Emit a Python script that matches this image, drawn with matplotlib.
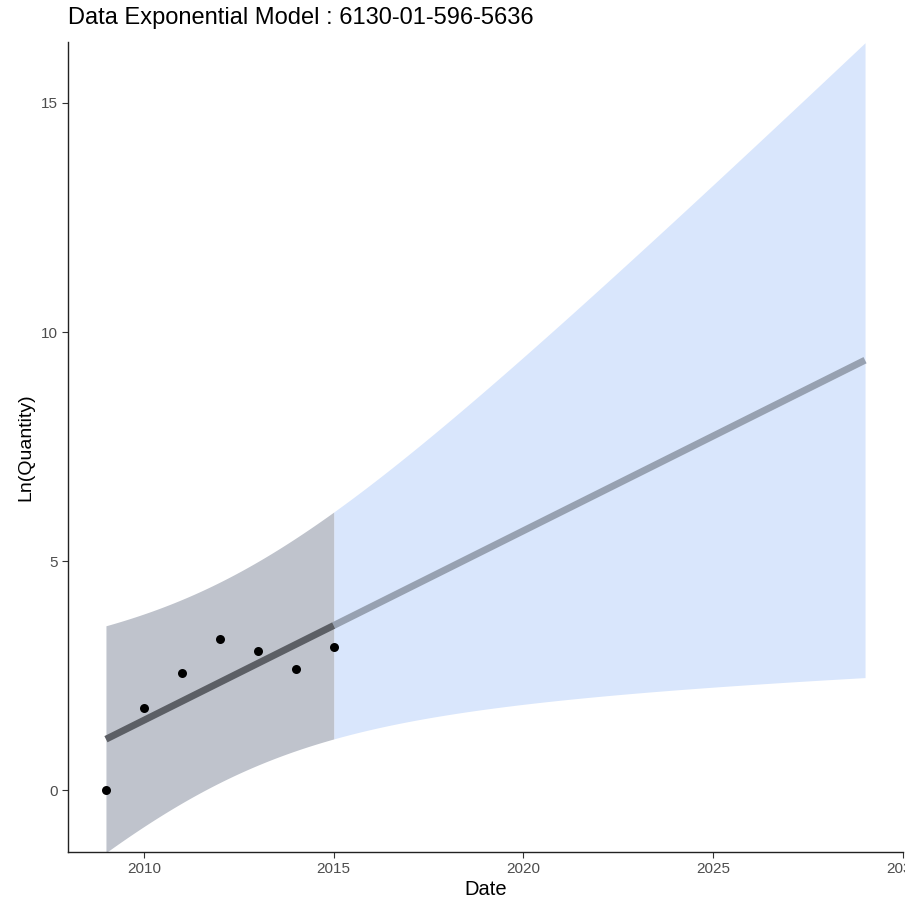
import numpy as np
import matplotlib
matplotlib.use("Agg")
import matplotlib.pyplot as plt

plt.rcParams['font.family'] = ['Liberation Sans', 'DejaVu Sans']

# Data
years = [2009, 2010, 2011, 2012, 2013, 2014, 2015]
ln_quantity = [0.0, 1.79, 2.565, 3.296, 3.045, 2.639, 3.135]
forecast_end = 2029
title = "Data Exponential Model : 6130-01-596-5636"
x_ticks = [2010, 2015, 2020, 2025, 2030]
y_ticks = [0, 5, 10, 15]
t_975_df5 = 2.5706

x = np.array(years, dtype=float)
y = np.array(ln_quantity)
n = len(x)
slope, intercept = np.polyfit(x, y, 1)
resid = y - (slope * x + intercept)
s = np.sqrt(np.sum(resid ** 2) / (n - 2))
xbar = x.mean()
sxx = np.sum((x - xbar) ** 2)

def band(xs):
    fit = slope * xs + intercept
    hw = t_975_df5 * s * np.sqrt(1 + 1 / n + (xs - xbar) ** 2 / sxx)
    return fit, fit - hw, fit + hw

fig = plt.figure(figsize=(9.05, 9.0), dpi=100)
ax = fig.add_axes([68 / 905, 48 / 900, 835 / 905, 810 / 900])

xh = np.linspace(x.min(), x.max(), 200)
xf = np.linspace(x.max(), forecast_end, 400)
fh, lh, uh = band(xh)
ff, lf, uf = band(xf)

ax.fill_between(xf, lf, uf, color='#d9e6fc', linewidth=0, zorder=1)
ax.fill_between(xh, lh, uh, color='#bfc3cc', linewidth=0, zorder=2)
ax.plot(xf, ff, color='#97a1b1', linewidth=5, solid_capstyle='butt', zorder=3)
ax.plot(xh, fh, color='#5c5f65', linewidth=5, solid_capstyle='butt', zorder=4)
ax.scatter(x, y, s=42, color='black', zorder=5, linewidths=0)

ax.set_xlim(2008, 2030)
ax.set_ylim(-1.35, 16.33)
ax.set_xticks(x_ticks)
ax.set_yticks(y_ticks)
ax.tick_params(axis='both', labelsize=11, labelcolor='#4d4d4d', length=4,
               width=0.8, color='#333333', pad=3)
for side in ['top', 'right']:
    ax.spines[side].set_visible(False)
for side in ['left', 'bottom']:
    ax.spines[side].set_linewidth(1.0)
    ax.spines[side].set_color('#222222')

ax.set_xlabel('Date', fontsize=14.5, labelpad=3)
ax.set_ylabel('Ln(Quantity)', fontsize=14, labelpad=5)
fig.text(68 / 905, 1 - 18 / 900, title, fontsize=17, ha='left', va='center')

fig.savefig('out.png', dpi=100)
